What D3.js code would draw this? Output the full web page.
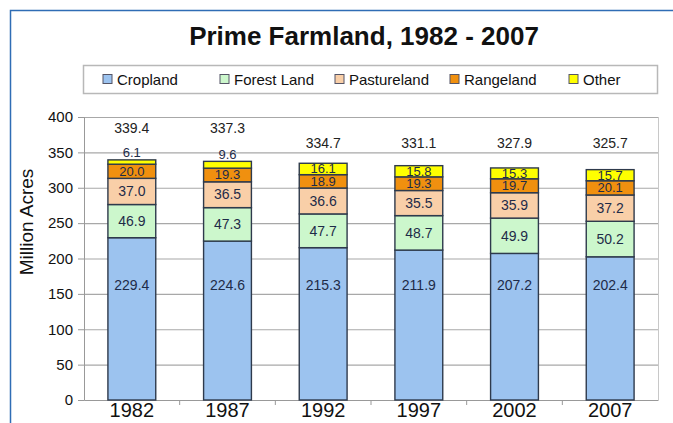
<!DOCTYPE html>
<html>
<head>
<meta charset="utf-8">
<script src="https://cdnjs.cloudflare.com/ajax/libs/d3/7.8.5/d3.min.js"></script>
<style>
  body { margin: 0; background: #fff; }
  text { font-family: "Liberation Sans", Arial, sans-serif; }
</style>
</head>
<body>
<div id="chart"></div>
<script>
const years = ["1982", "1987", "1992", "1997", "2002", "2007"];
const categories = ["Cropland", "Forest Land", "Pastureland", "Rangeland", "Other"];
const cropland = [229.4, 224.6, 215.3, 211.9, 207.2, 202.4];
const forestLand = [46.9, 47.3, 47.7, 48.7, 49.9, 50.2];
const pastureland = [37.0, 36.5, 36.6, 35.5, 35.9, 37.2];
const rangeland = [20.0, 19.3, 18.9, 19.3, 19.7, 20.1];
const other = [6.1, 9.6, 16.1, 15.8, 15.3, 15.7];
const totals = [339.4, 337.3, 334.7, 331.1, 327.9, 325.7];
const yTicks = [0, 50, 100, 150, 200, 250, 300, 350, 400];

const W = 673, H = 423;
const margin = { top: 117, right: 15, bottom: 23, left: 84 };
const width = W - margin.left - margin.right,
  height = H - margin.top - margin.bottom;

const colors = ["#9cc3ef", "#ccf7cc", "#f9cfa8", "#f0900f", "#ffff00"];
const labelColor = "#1e2b48";

// build table for the stack
const series = [cropland, forestLand, pastureland, rangeland, other];
const table = years.map((yr, i) => {
  const row = { year: yr };
  categories.forEach((c, j) => (row[c] = series[j][i]));
  return row;
});
const stacked = d3.stack().keys(categories)(table);

const x = d3.scaleBand().domain(years).range([0, width]).paddingInner(0.5).paddingOuter(0.25);
const y = d3.scaleLinear().domain([0, 400]).range([height, 0]);

const svg = d3.select("#chart").append("svg")
  .attr("width", W)
  .attr("height", H);

// outer blue frame (top + left)
svg.append("path")
  .attr("d", "M10.5," + H + " V10.5 H" + W)
  .attr("fill", "none")
  .attr("stroke", "#2f6db5")
  .attr("stroke-width", 1.5);

// title
svg.append("text")
  .attr("x", 364)
  .attr("y", 45)
  .attr("text-anchor", "middle")
  .attr("font-size", "26px")
  .attr("font-weight", "bold")
  .attr("fill", "#111")
  .text("Prime Farmland, 1982 - 2007");

// legend
const legend = svg.append("g");
legend.append("rect")
  .attr("x", 83.5).attr("y", 65.5)
  .attr("width", 574).attr("height", 28)
  .attr("fill", "#fff")
  .attr("stroke", "#b8b8b8")
  .attr("stroke-width", 1.5);
const legendX = [103, 220, 335, 450, 569];
categories.forEach((c, j) => {
  const item = legend.append("g").attr("transform", "translate(" + legendX[j] + ",0)");
  item.append("rect")
    .attr("x", 0).attr("y", 74.5)
    .attr("width", 9).attr("height", 9)
    .attr("fill", colors[j])
    .attr("stroke", "#556")
    .attr("stroke-width", 1);
  item.append("text")
    .attr("x", 14).attr("y", 85)
    .attr("font-size", "15px")
    .attr("fill", "#111")
    .text(c);
});

const g = svg.append("g")
  .attr("transform", "translate(" + margin.left + "," + margin.top + ")");

// gridlines
g.append("g")
  .selectAll("line")
  .data(yTicks.filter((t) => t > 0))
  .join("line")
  .attr("x1", 0).attr("x2", width)
  .attr("y1", (d) => y(d) + 0.5).attr("y2", (d) => y(d) + 0.5)
  .attr("stroke", "#a8a8a8")
  .attr("stroke-width", 1.2);

// right border of plot area
g.append("line")
  .attr("x1", width + 0.5).attr("x2", width + 0.5)
  .attr("y1", 0).attr("y2", height)
  .attr("stroke", "#c8c8c8");

// y axis
const yAxis = g.append("g")
  .call(d3.axisLeft(y).tickValues(yTicks).tickSize(6).tickPadding(5));
yAxis.select(".domain").attr("stroke", "#999");
yAxis.selectAll(".tick line").attr("stroke", "#999");
yAxis.selectAll(".tick text")
  .attr("font-size", "15px")
  .attr("fill", "#111")
  .style("font-family", "'Liberation Sans', Arial, sans-serif");

// x axis
const xAxis = g.append("g")
  .attr("transform", "translate(0," + height + ")")
  .call(d3.axisBottom(x).tickSize(0).tickPadding(3));
xAxis.select(".domain").attr("stroke", "#999");
xAxis.selectAll(".tick text")
  .attr("font-size", "20px")
  .attr("fill", "#111")
  .style("font-family", "'Liberation Sans', Arial, sans-serif");
// category separators below the axis
g.append("g")
  .selectAll("line")
  .data(years.slice(1))
  .join("line")
  .attr("x1", (d) => x(d) - x.step() * x.paddingInner() / 2)
  .attr("x2", (d) => x(d) - x.step() * x.paddingInner() / 2)
  .attr("y1", height).attr("y2", height + 5)
  .attr("stroke", "#999");

// axis title
svg.append("text")
  .attr("transform", "translate(33,222) rotate(-90)")
  .attr("text-anchor", "middle")
  .attr("font-size", "19px")
  .attr("fill", "#111")
  .text("Million Acres");

// bars
const layers = g.append("g")
  .selectAll("g")
  .data(stacked)
  .join("g")
  .attr("fill", (d, j) => colors[j]);

layers.selectAll("rect")
  .data((d) => d)
  .join("rect")
  .attr("x", (d) => x(d.data.year))
  .attr("y", (d) => y(d[1]))
  .attr("width", x.bandwidth())
  .attr("height", (d) => y(d[0]) - y(d[1]))
  .attr("stroke", "#2e3a4c")
  .attr("stroke-width", 1.4);

// segment labels
stacked.forEach((layer, j) => {
  g.append("g")
    .selectAll("text")
    .data(layer)
    .join("text")
    .attr("x", (d) => x(d.data.year) + x.bandwidth() / 2)
    .attr("y", (d) => {
      const v = d[1] - d[0];
      if (j === 0) return y(162);
      if (j === 4 && v < 10) return y(d[1]) - 7;
      return y((d[0] + d[1]) / 2);
    })
    .attr("dy", "0.34em")
    .attr("text-anchor", "middle")
    .attr("font-size", j >= 3 ? "13px" : "14px")
    .attr("fill", labelColor)
    .text((d) => (d[1] - d[0]).toFixed(1));
});

// total labels
g.append("g")
  .selectAll("text")
  .data(totals)
  .join("text")
  .attr("x", (d, i) => x(years[i]) + x.bandwidth() / 2)
  .attr("y", (d, i) => (other[i] < 10 ? y(384) : y(363)))
  .attr("dy", "0.36em")
  .attr("text-anchor", "middle")
  .attr("font-size", "14px")
  .attr("fill", "#222")
  .text((d) => d.toFixed(1));
</script>
</body>
</html>
